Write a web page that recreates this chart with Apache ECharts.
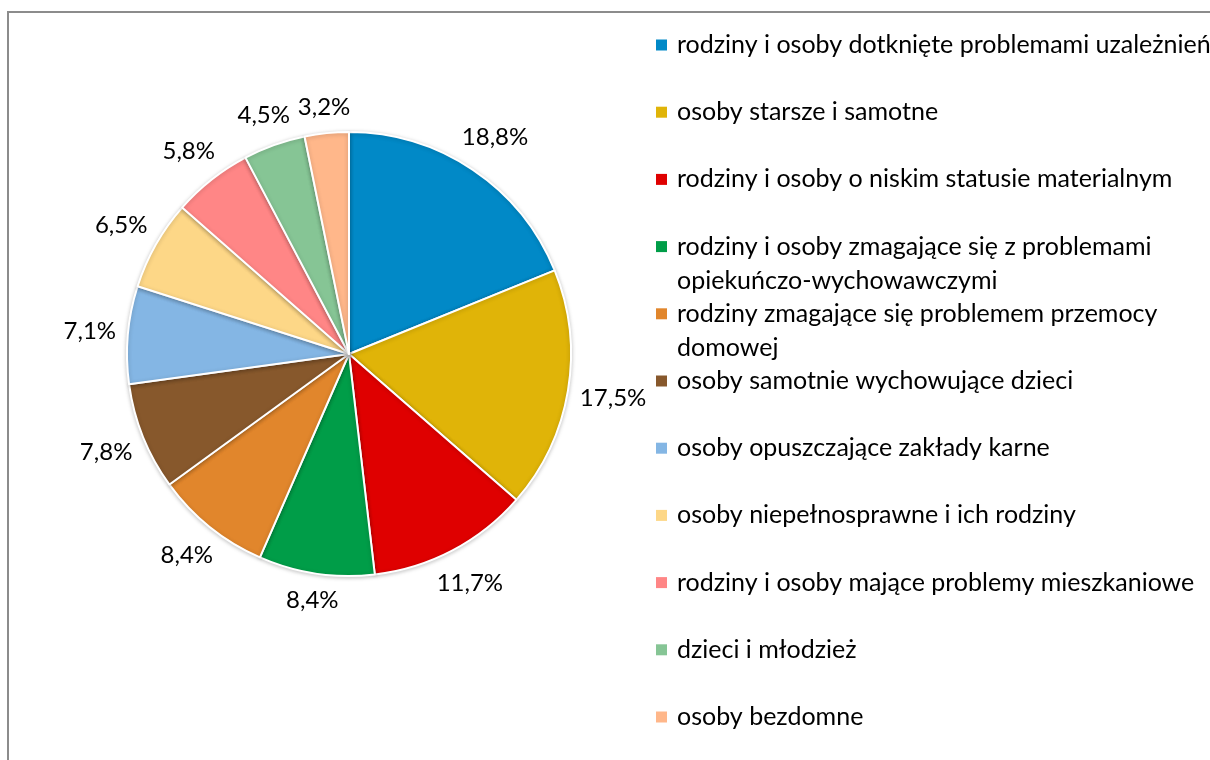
<!doctype html>
<html>
<head>
    <meta charset="utf-8">
    <title>Grupy wymagające wsparcia</title>
    <style>
        html, body { margin: 0; padding: 0; background: #fff; overflow: hidden; }
        #frame { position: absolute; left: 7px; top: 11px; width: 1203px; height: 749px;
                 border-left: 2px solid #8c8c8c; border-top: 2px solid #8c8c8c; }
        #chart { position: absolute; left: 0; top: 0; width: 1210px; height: 760px; }
    </style>
</head>
<body>
<div id="frame"></div>
<div id="chart"></div>
<script src="https://cdn.jsdelivr.net/npm/echarts@6/dist/echarts.min.js"></script>
<script>
    // dane
    var names = [
        'rodziny i osoby dotknięte problemami uzależnień',
        'osoby starsze i samotne',
        'rodziny i osoby o niskim statusie materialnym',
        'rodziny i osoby zmagające się z problemami opiekuńczo-wychowawczymi',
        'rodziny zmagające się problemem przemocy domowej',
        'osoby samotnie wychowujące dzieci',
        'osoby opuszczające zakłady karne',
        'osoby niepełnosprawne i ich rodziny',
        'rodziny i osoby mające problemy mieszkaniowe',
        'dzieci i młodzież',
        'osoby bezdomne'
    ];
    var shares = [18.8, 17.5, 11.7, 8.4, 8.4, 7.8, 7.1, 6.5, 5.8, 4.5, 3.2];
    var colors = ['#0189c7', '#e0b408', '#df0000', '#009d48', '#e1862c', '#87582c',
                  '#84b6e4', '#fdd787', '#ff8686', '#86c595', '#ffb78a'];
    // dlugie nazwy w legendzie lamane na dwie linie
    var wrapped = {
        'rodziny i osoby zmagające się z problemami opiekuńczo-wychowawczymi':
            'rodziny i osoby zmagające się z problemami\nopiekuńczo-wychowawczymi',
        'rodziny zmagające się problemem przemocy domowej':
            'rodziny zmagające się problemem przemocy\ndomowej'
    };

    var FONT = 'Lato';
    var LEG_FS = 25;
    var LAB_FS = 24;
    var LH = 34;
    var R = 222;
    var GAP = 11;

    var chart = echarts.init(document.getElementById('chart'));

    // jedna legenda na pozycje, zeby zachowac stale odstepy jak w Excelu
    var legends = names.map(function (n, i) {
        var lines = wrapped[n] ? 3 : 1;
        return {
            data: [n],
            orient: 'vertical',
            left: 656,
            top: 45 + i * 67.2 - lines * LH / 2,
            padding: 0,
            icon: 'rect',
            itemWidth: 11,
            itemHeight: 11,
            itemStyle: { borderWidth: 0, shadowBlur: 0 },
            selectedMode: false,
            formatter: function (name) {
                return wrapped[name] ? '\u00a0\n' + wrapped[name] : name;
            },
            textStyle: { fontFamily: FONT, fontSize: LEG_FS, color: '#000', lineHeight: LH, padding: [0, 0, 0, 5] }
        };
    });

    var option = {
        animation: false,
        color: colors,
        legend: legends,
        series: [{
            type: 'pie',
            center: [349, 354],
            radius: R,
            startAngle: 90,
            clockwise: true,
            avoidLabelOverlap: false,
            itemStyle: {
                borderColor: '#fff', borderWidth: 2,
                shadowColor: 'rgba(0,0,0,0.22)', shadowBlur: 4, shadowOffsetY: 1
            },
            label: {
                show: true,
                position: 'outside',
                fontFamily: FONT,
                fontSize: LAB_FS,
                color: '#000',
                formatter: function (p) {
                    return p.value.toFixed(1).replace('.', ',') + '%';
                }
            },
            labelLine: { show: true, length: 10, length2: 0, lineStyle: { opacity: 0 } },
            labelLayout: function (p) {
                var pts = p.labelLinePoints;
                if (!pts) return {};
                var dx = pts[1][0] - pts[0][0], dy = pts[1][1] - pts[0][1];
                var len = Math.sqrt(dx * dx + dy * dy) || 1;
                dx /= len; dy /= len;
                var w = p.labelRect.width, h = p.labelRect.height;
                var d = GAP + Math.abs(dx) * w / 2 + Math.abs(dy) * h / 2;
                return {
                    x: pts[0][0] + dx * d,
                    y: pts[0][1] + dy * d,
                    align: 'center',
                    verticalAlign: 'middle'
                };
            },
            emphasis: { disabled: true },
            data: names.map(function (n, i) {
                return { name: n, value: shares[i] };
            })
        }]
    };
    chart.setOption(option);
</script>
</body>
</html>
